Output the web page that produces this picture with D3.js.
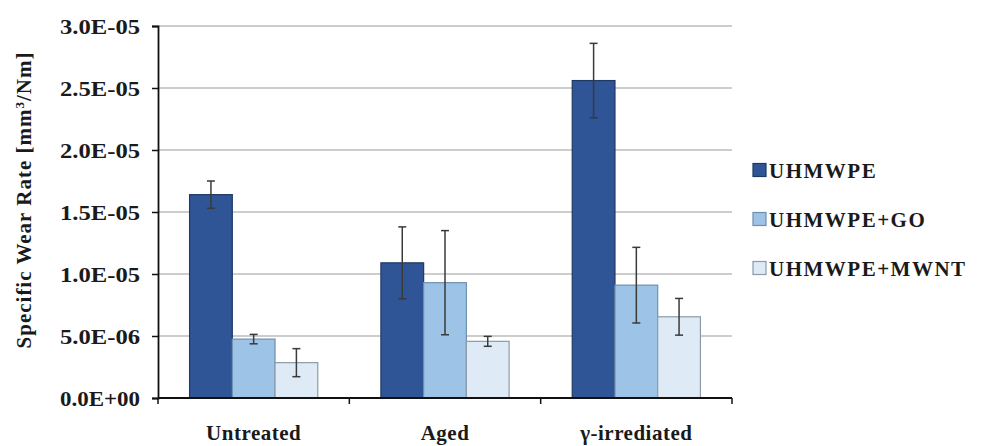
<!DOCTYPE html>
<html><head><meta charset="utf-8">
<script src="https://cdn.jsdelivr.net/npm/d3@7"></script>
<style>
body{margin:0;background:#fff}svg{display:block}
svg text{font-family:"Liberation Serif","Times New Roman","DejaVu Serif","Noto Serif",serif;font-weight:bold;fill:#1a1a1a}</style>
</head><body>
<svg id="c" width="984" height="446"></svg>
<script>
const categories = ["Untreated", "Aged", "γ-irrediated"];
const seriesNames = ["UHMWPE", "UHMWPE+GO", "UHMWPE+MWNT"];
const uhmwpe = [1.64e-5, 1.09e-5, 2.56e-5];
const uhmwpeErr = [1.1e-6, 2.9e-6, 3.0e-6];
const go = [4.75e-6, 9.3e-6, 9.1e-6];
const goErr = [3.8e-7, 4.2e-6, 3.05e-6];
const mwnt = [2.85e-6, 4.57e-6, 6.55e-6];
const mwntErr = [1.13e-6, 4.0e-7, 1.48e-6];
const yTicks = [0, 5e-6, 1e-5, 1.5e-5, 2e-5, 2.5e-5, 3e-5];
const yTickLabels = ["0.0E+00","5.0E-06","1.0E-05","1.5E-05","2.0E-05","2.5E-05","3.0E-05"];
const colors = ["#2F5597", "#9DC3E6", "#DEEBF7"];
const strokes = ["#1F3864", "#6F8FAF", "#8C9BA8"];

const values = [uhmwpe, go, mwnt];
const errs = [uhmwpeErr, goErr, mwntErr];

const svg = d3.select("#c");
const m = {l:158, r:732, t:26, b:398};
const x = d3.scaleBand().domain(categories).range([m.l, m.r]).paddingInner(0.33).paddingOuter(0.165);
const xs = d3.scaleBand().domain(d3.range(3)).range([0, x.bandwidth()]);
const y = d3.scaleLinear().domain([0, 3e-5]).range([m.b, m.t]);

svg.append("g").selectAll("line").data(yTicks.slice(1)).join("line")
  .attr("x1", m.l).attr("x2", m.r).attr("y1", d=>y(d)).attr("y2", d=>y(d))
  .attr("stroke", "#bdbdbd").attr("stroke-width", 1.5);

const data = [];
categories.forEach((c,i)=>values.forEach((s,j)=>data.push({c, j, v:s[i], e:errs[j][i]})));
svg.append("g").selectAll("rect").data(data).join("rect")
  .attr("x", d=>x(d.c)+xs(d.j)).attr("width", xs.bandwidth())
  .attr("y", d=>y(d.v)).attr("height", d=>y(0)-y(d.v))
  .attr("fill", d=>colors[d.j]).attr("stroke", d=>strokes[d.j]).attr("stroke-width", 1.2);

const eg = svg.append("g").attr("stroke", "#3a3a3a").attr("stroke-width", 1.5);
data.forEach(d=>{
  const cx = x(d.c)+xs(d.j)+xs.bandwidth()/2;
  const y1 = y(d.v+d.e), y2 = y(d.v-d.e);
  eg.append("line").attr("x1",cx).attr("x2",cx).attr("y1",y1).attr("y2",y2);
  eg.append("line").attr("x1",cx-4).attr("x2",cx+4).attr("y1",y1).attr("y2",y1);
  eg.append("line").attr("x1",cx-4).attr("x2",cx+4).attr("y1",y2).attr("y2",y2);
});

const yAxis = d3.axisLeft(y).tickValues(yTicks).tickFormat((d,i)=>yTickLabels[i]).tickSize(6).tickPadding(12);
const ya = svg.append("g").attr("transform", `translate(${m.l},0)`).call(yAxis);
ya.attr("font-family", null).attr("font-size", null);
ya.select(".domain").attr("stroke","#111").attr("stroke-width",1.8);
ya.selectAll(".tick line").attr("stroke","#111").attr("stroke-width",1.5);
ya.selectAll("text").attr("font-size", 21).attr("fill","#1a1a1a").attr("dy","0.34em")
  .attr("textLength", 80).attr("lengthAdjust","spacingAndGlyphs");

const xa = svg.append("g").attr("transform", `translate(0,${m.b})`);
xa.append("line").attr("x1", m.l).attr("x2", m.r).attr("stroke","#111").attr("stroke-width",1.8);
const bounds = [m.l, ...categories.slice(1).map(c=>x(c)-x.step()*x.paddingInner()/2), m.r];
xa.selectAll(".t").data(bounds).join("line").attr("x1",d=>d).attr("x2",d=>d).attr("y1",0).attr("y2",6)
  .attr("stroke","#111").attr("stroke-width",1.5);
xa.selectAll("text").data(categories).join("text")
  .attr("x", d=>x(d)+x.bandwidth()/2).attr("y", 42).attr("text-anchor","middle")
  .attr("font-size", 21).attr("letter-spacing", 0.5)
  .text(d=>d);

svg.append("text").attr("transform", `translate(31,200) rotate(-90)`)
  .attr("text-anchor","middle").attr("font-size", 21).attr("letter-spacing", 1)
  .html('Specific Wear Rate [mm<tspan baseline-shift="super" font-size="13">3</tspan>/Nm]');

const lg = svg.append("g").attr("transform","translate(753,170)");
seriesNames.forEach((n,i)=>{
  const g = lg.append("g").attr("transform",`translate(0,${i*49})`);
  g.append("rect").attr("x",0).attr("y",-6.5).attr("width",13).attr("height",13)
    .attr("fill",colors[i]).attr("stroke",strokes[i]).attr("stroke-width",1.2);
  g.append("text").attr("x",16).attr("y",7.5).attr("font-size",21).attr("letter-spacing",1.5).text(n);
});
</script>
</body></html>
